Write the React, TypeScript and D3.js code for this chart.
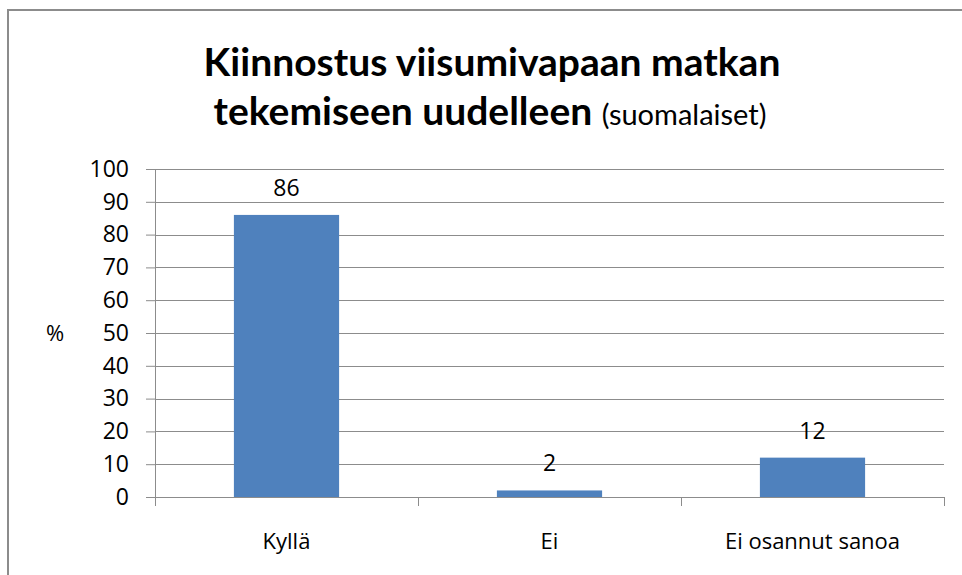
import { useEffect, useRef } from "react";
import * as d3 from "d3";

const WIDTH = 962;
const HEIGHT = 575;
const MARGIN = { top: 169, right: 18, bottom: 78, left: 155 };

const categories = ["Kyllä", "Ei", "Ei osannut sanoa"];
const values = [86, 2, 12];
const yTicks = [0, 10, 20, 30, 40, 50, 60, 70, 80, 90, 100];

const TITLE_FONT = "Lato, 'Open Sans', sans-serif";
const FONT = "'Open Sans', Lato, sans-serif";

const App = () => {
  const axesRef = useRef<SVGGElement>(null);
  const boundsWidth = WIDTH - MARGIN.left - MARGIN.right;
  const boundsHeight = HEIGHT - MARGIN.top - MARGIN.bottom;

  const xScale = d3.scaleBand().domain(categories).range([0, boundsWidth]).paddingInner(0.6).paddingOuter(0.3);
  const xBand = d3.scaleBand().domain(categories).range([0, boundsWidth]);
  const yScale = d3.scaleLinear().domain([0, 100]).range([boundsHeight, 0]);

  useEffect(() => {
    const g = d3.select(axesRef.current);
    g.selectAll("*").remove();

    // horizontal gridlines
    g.selectAll(".grid")
      .data(yTicks)
      .enter()
      .append("line")
      .attr("x1", 0)
      .attr("x2", boundsWidth)
      .attr("y1", (d) => Math.round(yScale(d)) + 0.5)
      .attr("y2", (d) => Math.round(yScale(d)) + 0.5)
      .style("stroke", "#8c8c8c")
      .style("stroke-width", 1);

    const yAxis = g
      .append("g")
      .call(d3.axisLeft(yScale).tickValues(yTicks).tickSize(9).tickPadding(17));
    yAxis.selectAll("path, line").style("stroke", "#8c8c8c");
    yAxis.selectAll("text").style("font-family", FONT).style("font-size", "23px").style("fill", "#000");

    // category separators below x axis
    const xAxis = g.append("g").attr("transform", `translate(0,${boundsHeight})`);
    xAxis
      .append("line")
      .attr("x1", 0)
      .attr("x2", boundsWidth)
      .attr("y1", 0.5)
      .attr("y2", 0.5)
      .style("stroke", "#8c8c8c");
    xAxis
      .selectAll(".sep")
      .data([...categories.map((c) => xBand(c) as number), boundsWidth])
      .enter()
      .append("line")
      .attr("x1", (d) => Math.round(d) + 0.5)
      .attr("x2", (d) => Math.round(d) + 0.5)
      .attr("y1", 0)
      .attr("y2", 9)
      .style("stroke", "#8c8c8c");
    xAxis
      .selectAll(".lbl")
      .data(categories)
      .enter()
      .append("text")
      .attr("x", (d) => (xBand(d) as number) + xBand.bandwidth() / 2)
      .attr("y", 52)
      .attr("text-anchor", "middle")
      .style("font-family", FONT)
      .style("font-size", "22px")
      .text((d) => d);
  }, [boundsWidth, boundsHeight]);

  return (
    <svg width={WIDTH} height={HEIGHT} style={{ position: "absolute", left: 0, top: 0, background: "#fff" }}>
      <rect x={8} y={10} width={WIDTH} height={HEIGHT} fill="#fff" stroke="#8c8c8c" strokeWidth={2} />
      <text x={492} y={76} textAnchor="middle" fontFamily={TITLE_FONT} fontWeight="bold" fontSize={39}>
        Kiinnostus viisumivapaan matkan
      </text>
      <text x={490} y={125} textAnchor="middle" fontFamily={TITLE_FONT} fontWeight="bold" fontSize={39}>
        tekemiseen uudelleen{" "}
        <tspan fontSize={29} fontWeight="normal">
          (suomalaiset)
        </tspan>
      </text>
      <text x={55} y={341} textAnchor="middle" fontFamily={FONT} fontSize={22}>
        %
      </text>
      <g ref={axesRef} transform={`translate(${MARGIN.left},${MARGIN.top})`} />
      <g transform={`translate(${MARGIN.left},${MARGIN.top})`}>
        {categories.map((c, i) => (
          <g key={c}>
            <rect
              x={xScale(c)}
              y={yScale(values[i])}
              width={xScale.bandwidth()}
              height={boundsHeight - yScale(values[i])}
              fill="#4f81bd"
            />
            <text
              x={(xScale(c) as number) + xScale.bandwidth() / 2}
              y={yScale(values[i]) - 19}
              textAnchor="middle"
              fontFamily={FONT}
              fontSize={23}
            >
              {values[i]}
            </text>
          </g>
        ))}
      </g>
    </svg>
  );
};

export default App;
